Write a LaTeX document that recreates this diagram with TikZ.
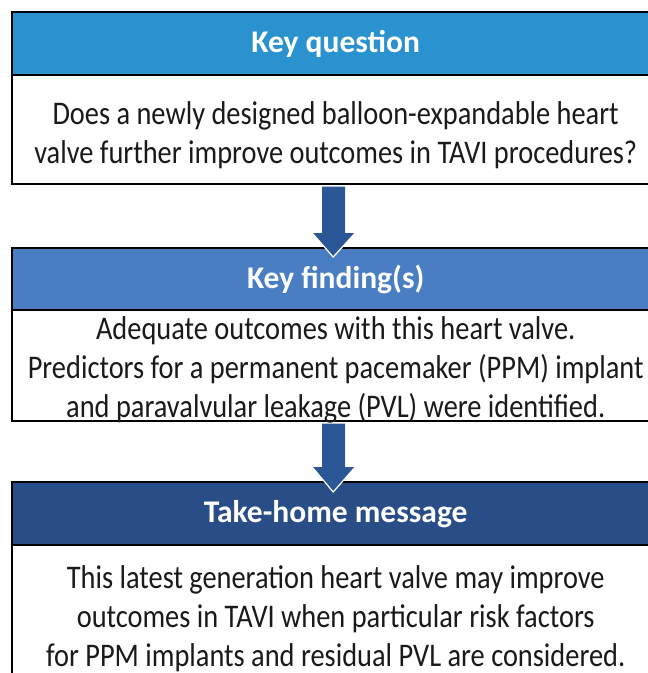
\documentclass[tikz,border=0pt]{standalone}
\usepackage{fontspec}
\setmainfont{Carlito}[FakeStretch=0.86]
\newfontfamily\headfont{Carlito}
\usetikzlibrary{positioning, calc}
\definecolor{QuestionBlue}{HTML}{2A92CE}
\definecolor{FindingBlue}{HTML}{4A7EC3}
\definecolor{MessageBlue}{HTML}{294E87}
\definecolor{ArrowBlue}{HTML}{2C5796}
\definecolor{BodyText}{HTML}{1A1A1A}

\begin{document}
\begin{tikzpicture}[
    x=1pt, y=1pt,
    header/.style={draw=black, line width=2.4pt, minimum width=647pt, minimum height=63pt, inner sep=0pt, anchor=north west, text=white, font=\headfont\fontsize{31.5}{37}\selectfont\bfseries},
    panel/.style={draw=black, line width=2.4pt, fill=white, minimum width=647pt, inner sep=0pt, anchor=north west},
    paneltext/.style={inner sep=0pt, align=center, text=BodyText, font=\fontsize{33}{39}\selectfont},
    flowarrow/.style={fill=ArrowBlue},
    tipedge/.style={draw=white, line width=1.2pt}
]
\useasboundingbox (0,0) rectangle (648,-673);
\clip (0,0) rectangle (648,-673);

% question
\node[header, fill=QuestionBlue] (head1) at (11,-11) {Key question};
\node[panel, minimum height=109pt] (panel1) at (11,-74) {};
\node[paneltext] (text1) at ($(panel1.center)+(0,-5)$) {Does a newly designed balloon-expandable heart\\valve further improve outcomes in TAVI procedures?};

% finding
\node[header, fill=FindingBlue] (head2) at (11,-247) {Key finding(s)};
\node[panel, minimum height=111pt] (panel2) at (11,-309) {};
\node[paneltext] (text2) at ($(panel2.center)+(0,-4.5)$) {Adequate outcomes with this heart valve.\\Predictors for a permanent pacemaker (PPM) implant\\and paravalvular leakage (PVL) were identified.};

% message
\node[header, fill=MessageBlue] (head3) at (11,-481) {Take-home message};
\node[panel, minimum height=146pt] (panel3) at (11,-544) {};
\node[paneltext] (text3) at (panel3.center) {This latest generation heart valve may improve\\outcomes in TAVI when particular risk factors\\for PPM implants and residual PVL are considered.};

% arrows between the boxes
\fill[flowarrow] ($(panel1.south)+(-13.5,-1.2)$) -- ($(head2.north)+(-13.5,14)$) -- ($(head2.north)+(-23.5,14)$) -- ($(head2.north)+(-2.5,-10)$) -- ($(head2.north)+(19.5,14)$) -- ($(head2.north)+(9.5,14)$) -- ($(panel1.south)+(9.5,-1.2)$) -- cycle;
\draw[tipedge] ($(head2.north)+(-23.5,14)$) -- ($(head2.north)+(-2.5,-10)$) -- ($(head2.north)+(19.5,14)$);

\fill[flowarrow] ($(panel2.south)+(-13.5,-1.2)$) -- ($(head3.north)+(-13.5,14)$) -- ($(head3.north)+(-23.5,14)$) -- ($(head3.north)+(-2.5,-11)$) -- ($(head3.north)+(19.5,14)$) -- ($(head3.north)+(9.5,14)$) -- ($(panel2.south)+(9.5,-1.2)$) -- cycle;
\draw[tipedge] ($(head3.north)+(-23.5,14)$) -- ($(head3.north)+(-2.5,-11)$) -- ($(head3.north)+(19.5,14)$);
\end{tikzpicture}
\end{document}
